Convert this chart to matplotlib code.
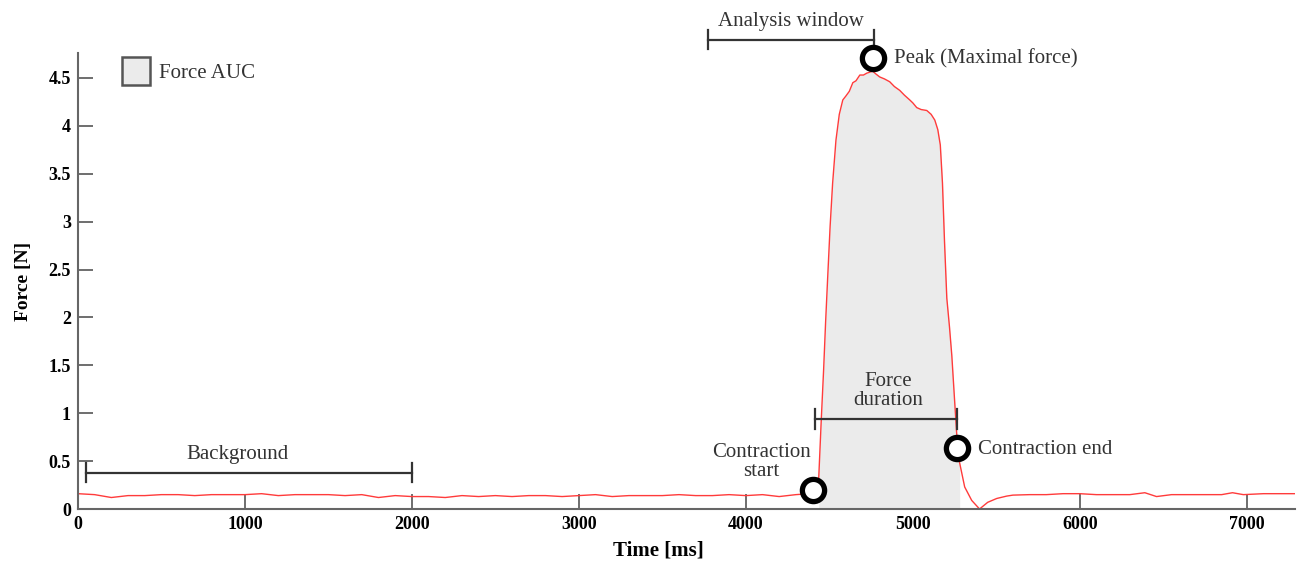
import numpy as np
import matplotlib.pyplot as plt
from matplotlib.patches import Patch

plt.rcParams['font.family'] = ['Liberation Serif', 'DejaVu Serif']

# force trace (ms, N)
time_ms = [0, 100, 200, 300, 400, 500, 600, 700, 800, 900,
           1000, 1100, 1200, 1300, 1400, 1500, 1600, 1700, 1800, 1900,
           2000, 2100, 2200, 2300, 2400, 2500, 2600, 2700, 2800, 2900,
           3000, 3100, 3200, 3300, 3400, 3500, 3600, 3700, 3800, 3900,
           4000, 4100, 4200, 4300, 4380, 4420, 4437, 4452, 4466, 4478,
           4490, 4505, 4520, 4540, 4560, 4581, 4599, 4620, 4641, 4660,
           4683, 4705, 4725, 4760, 4780, 4802, 4830, 4862, 4890, 4922,
           4950, 4982, 5000, 5024, 5050, 5084, 5110, 5132, 5150, 5165,
           5178, 5190, 5204, 5220, 5234, 5250, 5263, 5281, 5311, 5353,
           5400, 5449, 5503, 5563, 5600, 5700, 5800, 5900, 6000, 6100,
           6200, 6300, 6390, 6460, 6550, 6650, 6750, 6850, 6915, 6980,
           7100, 7200, 7290]
force_n = [0.16, 0.15, 0.12, 0.14, 0.14, 0.15, 0.15, 0.14, 0.15, 0.15,
           0.15, 0.16, 0.14, 0.15, 0.15, 0.15, 0.14, 0.15, 0.12, 0.14,
           0.13, 0.13, 0.12, 0.14, 0.13, 0.14, 0.13, 0.14, 0.14, 0.13,
           0.14, 0.15, 0.13, 0.14, 0.14, 0.14, 0.15, 0.14, 0.14, 0.15,
           0.14, 0.15, 0.13, 0.15, 0.16, 0.21, 0.33, 0.93, 1.45, 1.95,
           2.40, 2.95, 3.40, 3.85, 4.12, 4.27, 4.31, 4.36, 4.45, 4.47,
           4.53, 4.53, 4.55, 4.57, 4.54, 4.51, 4.49, 4.46, 4.41, 4.37,
           4.32, 4.27, 4.24, 4.19, 4.17, 4.16, 4.12, 4.06, 3.96, 3.80,
           3.40, 2.80, 2.20, 1.90, 1.60, 1.15, 0.79, 0.48, 0.23, 0.09,
           0.00, 0.07, 0.11, 0.135, 0.145, 0.15, 0.15, 0.16, 0.16, 0.15,
           0.15, 0.15, 0.17, 0.13, 0.15, 0.15, 0.15, 0.15, 0.17, 0.15,
           0.16, 0.16, 0.16]

auc_start, auc_end = 4437, 5281

# event markers
events_x = [4401, 4760, 5263]
events_y = [0.20, 4.71, 0.64]

xticks = [0, 1000, 2000, 3000, 4000, 5000, 6000, 7000]
yticks = [0, 0.5, 1, 1.5, 2, 2.5, 3, 3.5, 4, 4.5]
ytick_labels = ['0', '0.5', '1', '1.5', '2', '2.5', '3', '3.5', '4', '4.5']

t = np.array(time_ms)
f = np.array(force_n)

fig = plt.figure(figsize=(12.99, 5.70), dpi=100)
ax = fig.add_axes([0.060, 0.107, 0.937, 0.800])
ax.set_axisbelow(True)

mask = (t >= auc_start) & (t <= auc_end)
ax.fill_between(t[mask], 0, f[mask], color='#ebebeb', lw=0, zorder=1)
ax.plot(t, f, color='#ff3b3b', lw=1.0, zorder=2)
ax.plot(events_x, events_y, 'o', ms=16, mfc='white', mec='black', mew=3.8,
        zorder=5, clip_on=False)

ax.set_xlim(0, 7290)
ax.set_ylim(0, 4.76)

# range brackets
txt_col = '#333333'
def bracket(x0, x1, y, h=0.1):
    ax.plot([x0, x1], [y, y], color=txt_col, lw=1.6, clip_on=False, zorder=4)
    for xx in (x0, x1):
        ax.plot([xx, xx], [y - h, y + h], color=txt_col, lw=1.6,
                clip_on=False, zorder=4)

bracket(50, 2000, 0.38)
bracket(3772, 4766, 4.90)
bracket(4413, 5263, 0.94)

fs = 15
ax.text(955, 0.47, 'Background', ha='center', va='bottom', fontsize=fs, color=txt_col)
ax.text(4270, 4.99, 'Analysis window', ha='center', va='bottom', fontsize=fs, color=txt_col)
ax.text(4855, 1.03, 'Force\nduration', ha='center', va='bottom', fontsize=fs,
        color=txt_col, linespacing=1.0)
ax.text(4095, 0.49, 'Contraction\nstart', ha='center', va='center', fontsize=fs,
        color=txt_col, linespacing=0.95)
ax.text(5390, 0.62, 'Contraction end', ha='left', va='center', fontsize=fs, color=txt_col)
ax.text(4886, 4.70, 'Peak (Maximal force)', ha='left', va='center', fontsize=fs, color=txt_col)

leg = ax.legend(handles=[Patch(facecolor='#ebebeb', edgecolor='#555555', lw=1.8,
                               label='Force AUC')],
                loc='upper left', bbox_to_anchor=(0.036, 0.992), frameon=False,
                fontsize=fs, handlelength=1.35, handleheight=1.75,
                borderpad=0, borderaxespad=0, handletextpad=0.45)
for txt in leg.get_texts():
    txt.set_color(txt_col)

for side in ('top', 'right'):
    ax.spines[side].set_visible(False)
for side in ('left', 'bottom'):
    ax.spines[side].set_color('#666666')
    ax.spines[side].set_linewidth(1.5)

ax.set_xticks(xticks)
ax.set_xticklabels([str(v) for v in xticks])
ax.set_yticks(yticks)
ax.set_yticklabels(ytick_labels)
ax.tick_params(direction='in', length=11, width=1.2, color='#555555',
               labelsize=13, pad=5)
for lbl in ax.get_xticklabels() + ax.get_yticklabels():
    lbl.set_fontweight('bold')

ax.set_xlabel('Time [ms]', fontsize=15, fontweight='bold', labelpad=8)
ax.xaxis.set_label_coords(0.477, -0.07)
ax.set_ylabel('Force [N]', fontsize=14, fontweight='bold', labelpad=12)

fig.savefig('out.png', dpi=100)
